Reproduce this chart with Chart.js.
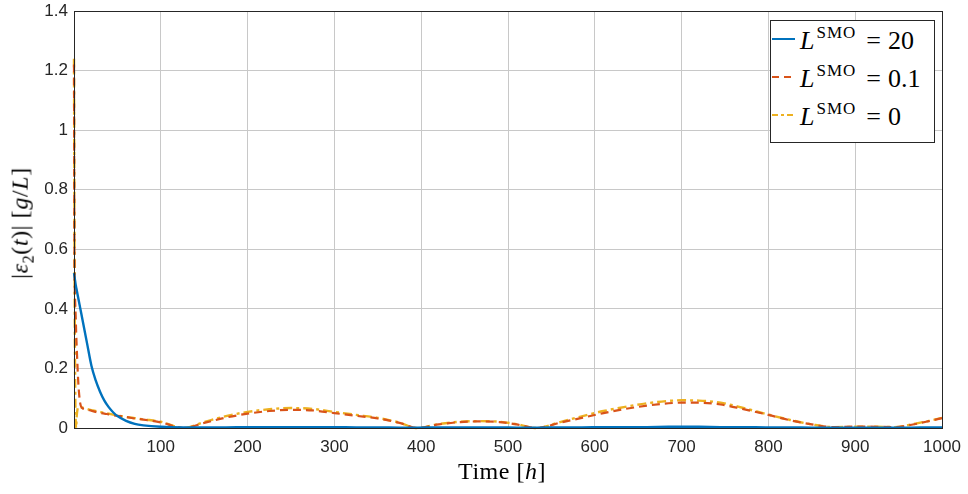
<!DOCTYPE html>
<html>
<head>
<meta charset="utf-8">
<script src="https://cdn.jsdelivr.net/npm/chart.js@4"></script>
<style>
  html, body { margin: 0; padding: 0; background: #fff; }
  #wrap { position: relative; width: 968px; height: 494px; }
  #plot { position: absolute; left: 0; top: 0; }
  .tex { position: absolute; font-family: "Liberation Serif", "Times New Roman", serif; color: #000; white-space: nowrap; }
  .tex i { font-style: italic; }
  #ylabel { font-size: 24px; letter-spacing: 0.6px; left: 22px; top: 223px; transform: translate(-50%, -50%) rotate(-90deg); }
  #xlabel { font-size: 24px; letter-spacing: 0.5px; left: 502px; top: 471px; transform: translate(-50%, -50%); }
  #legend { position: absolute; left: 770px; top: 20px; width: 163px; height: 121px; border: 1px solid #262626; background: #fff; }
  .row { position: absolute; left: 1px; height: 30px; display: flex; align-items: center; }
  .row svg { width: 23px; height: 6px; margin-right: 5px; }
  .row .tex { position: static; font-size: 26px; }
  .row sup { font-size: 17px; letter-spacing: 1px; font-style: normal; vertical-align: 11px; margin-left: 2px; }
  .row .eq { margin-left: 10px; margin-right: 7px; }
</style>
</head>
<body>
<div id="wrap">
  <canvas id="plot" width="968" height="494"></canvas>
  <div id="ylabel" class="tex">|<i>ε</i><sub style="font-size:16px">2</sub>(<i>t</i>)| [<i>g</i>/<i>L</i>]</div>
  <div id="xlabel" class="tex">Time [<i>h</i>]</div>
  <div id="legend">
    <div class="row" style="top:3px">
      <svg><line x1="0" y1="3" x2="23" y2="3" stroke="#0072BD" stroke-width="2"/></svg>
      <span class="tex"><i>L</i><sup>SMO</sup><span class="eq">=</span>20</span>
    </div>
    <div class="row" style="top:41px">
      <svg><line x1="0" y1="3" x2="23" y2="3" stroke="#D95319" stroke-width="2" stroke-dasharray="7,5"/></svg>
      <span class="tex"><i>L</i><sup>SMO</sup><span class="eq">=</span>0.1</span>
    </div>
    <div class="row" style="top:79px">
      <svg><line x1="0" y1="3" x2="23" y2="3" stroke="#EDB120" stroke-width="2" stroke-dasharray="6,3,3,3"/></svg>
      <span class="tex"><i>L</i><sup>SMO</sup><span class="eq">=</span>0</span>
    </div>
  </div>
</div>
<script>
// time axis [h]
const hours = [0, 0.5, 1, 1.5, 2, 2.5, 3, 4, 5, 7, 10, 15, 20, 25, 30, 35, 40, 45, 50, 60, 70, 80, 100, 126,
  150, 175, 200, 225, 250, 275, 300, 325, 350, 375, 395, 420, 445, 465, 490, 510, 533,
  560, 585, 610, 635, 660, 685, 700, 720, 745, 770, 800, 825, 850, 875, 900, 925, 945, 965, 985, 1000];

// |e2(t)| for L_SMO = 20
const errL20 = [0.52, 0.51, 0.5, 0.49, 0.48, 0.472, 0.465, 0.45, 0.435, 0.405, 0.36, 0.285, 0.21, 0.16, 0.122, 0.092, 0.07, 0.053, 0.04, 0.024, 0.014, 0.009, 0.004, 0.002,
  0.002, 0.002, 0.003, 0.003, 0.003, 0.003, 0.003, 0.002, 0.002, 0.001, 0.001, 0.002, 0.002, 0.002, 0.002, 0.001, 0.001,
  0.002, 0.002, 0.003, 0.003, 0.003, 0.004, 0.004, 0.004, 0.003, 0.003, 0.002, 0.002, 0.001, 0.001, 0.001, 0.001, 0.001, 0.001, 0.002, 0.002];

// |e2(t)| for L_SMO = 0.1
const errL01 = [1.22, 0.6, 0.46, 0.41, 0.37, 0.32, 0.28, 0.21, 0.15, 0.085, 0.066, 0.062, 0.058, 0.054, 0.051, 0.048, 0.046, 0.043, 0.041, 0.037, 0.032, 0.028, 0.019, 0,
  0.017, 0.035, 0.048, 0.057, 0.061, 0.059, 0.05, 0.041, 0.032, 0.017, 0, 0.012, 0.02, 0.022, 0.02, 0.012, 0,
  0.018, 0.034, 0.05, 0.064, 0.075, 0.083, 0.085, 0.085, 0.079, 0.064, 0.044, 0.026, 0.012, 0.003, 0.005, 0.004, 0.003, 0.011, 0.023, 0.033];

// |e2(t)| for L_SMO = 0
const errL0 = [1.24, 0.7, 0.3, 0.1, 0.02, 0, 0.035, 0.062, 0.07, 0.07, 0.068, 0.064, 0.06, 0.057, 0.054, 0.051, 0.048, 0.045, 0.042, 0.037, 0.033, 0.029, 0.021, 0,
  0.02, 0.04, 0.054, 0.063, 0.067, 0.064, 0.054, 0.044, 0.034, 0.018, 0, 0.013, 0.021, 0.023, 0.021, 0.013, 0,
  0.02, 0.039, 0.057, 0.071, 0.083, 0.091, 0.093, 0.092, 0.085, 0.068, 0.045, 0.027, 0.012, 0.003, 0.004, 0.004, 0.003, 0.012, 0.024, 0.034];

const xTicks = [0, 100, 200, 300, 400, 500, 600, 700, 800, 900, 1000];
const yTicks = [0, 0.2, 0.4, 0.6, 0.8, 1, 1.2, 1.4];

const toPoints = ys => hours.map((h, i) => ({ x: h, y: ys[i] }));

// box around the axes, like MATLAB "box on"
const boxPlugin = {
  id: 'box',
  afterDraw(chart) {
    const a = chart.chartArea;
    const c = chart.ctx;
    c.save();
    c.strokeStyle = '#262626';
    c.lineWidth = 1;
    c.strokeRect(Math.round(a.left) + 0.5, Math.round(a.top) + 0.5, Math.round(a.right - a.left), Math.round(a.bottom - a.top));
    c.restore();
  }
};

const tickFont = { family: '"Liberation Sans", Arial, sans-serif', size: 17 };

new Chart(document.getElementById('plot'), {
  type: 'line',
  data: {
    datasets: [
      { label: 'L20', data: toPoints(errL20), borderColor: '#0072BD', borderWidth: 2.4, pointRadius: 0, cubicInterpolationMode: 'monotone', clip: false },
      { label: 'L0.1', data: toPoints(errL01), borderColor: '#D95319', borderWidth: 2.2, borderDash: [8, 5], pointRadius: 0, cubicInterpolationMode: 'monotone', clip: false },
      { label: 'L0', data: toPoints(errL0), borderColor: '#EDB120', borderWidth: 2.4, borderDash: [9, 4, 3, 4], pointRadius: 0, cubicInterpolationMode: 'monotone', clip: false }
    ]
  },
  options: {
    responsive: false,
    animation: false,
    layout: { padding: { top: 11, right: 26, left: 0, bottom: 0 } },
    plugins: { legend: { display: false }, tooltip: { enabled: false } },
    scales: {
      x: {
        type: 'linear', min: 0, max: 1000,
        afterBuildTicks: s => { s.ticks = xTicks.map(v => ({ value: v })); },
        afterFit: s => { s.height = 66; s.paddingLeft = 0; s.paddingRight = 0; },
        grid: { color: '#c8c8c8', tickLength: 0 },
        border: { display: false },
        ticks: { color: '#262626', font: tickFont, padding: 9, maxRotation: 0, callback: v => (v === 0 ? '' : String(v)) }
      },
      y: {
        type: 'linear', min: 0, max: 1.4,
        afterBuildTicks: s => { s.ticks = yTicks.map(v => ({ value: v })); },
        afterFit: s => { s.width = 74; s.paddingTop = 0; s.paddingBottom = 0; },
        grid: { color: '#c8c8c8', tickLength: 0 },
        border: { display: false },
        ticks: { color: '#262626', font: tickFont, padding: 6, callback: v => String(Math.round(v * 10) / 10) }
      }
    }
  },
  plugins: [boxPlugin]
});
</script>
</body>
</html>
